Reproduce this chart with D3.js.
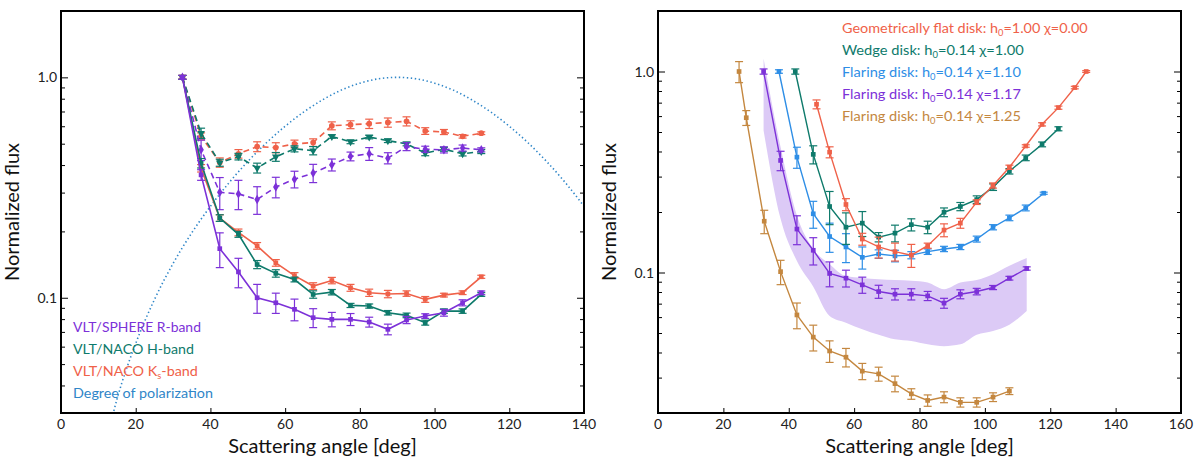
<!DOCTYPE html>
<html>
<head>
<meta charset="utf-8">
<script src="https://cdn.jsdelivr.net/npm/d3@7"></script>
<style>
  body { margin: 0; background: #fff; }
  svg { font-family: Lato, "Open Sans", sans-serif; }
</style>
</head>
<body>
<div id="chart"></div>
<script>
// ---- left panel data ----
const angL = [32.5, 37.5, 42.5, 47.5, 52.5, 57.5, 62.5, 67.5, 72.5, 77.5, 82.5, 87.5, 92.5, 97.5, 102.5, 107.5, 112.5]

const sphereI = [1.0, 0.361, 0.167, 0.131, 0.100, 0.0949, 0.0886, 0.0812, 0.0798, 0.0798, 0.0776, 0.0719, 0.0793, 0.0826, 0.0855, 0.0949, 0.1053]
const sphereIErr = [0.02, 0.02, 0.03, 0.02, 0.015, 0.01, 0.01, 0.008, 0.006, 0.005, 0.004, 0.004, 0.003, 0.002, 0.003, 0.003, 0.002]
const nacoHI = [1.0, 0.408, 0.230, 0.194, 0.1415, 0.129, 0.121, 0.1035, 0.106, 0.0923, 0.0917, 0.0855, 0.0832, 0.0771, 0.087, 0.087, 0.1035]
const nacoHIErr = [0.02, 0.02, 0.008, 0.006, 0.006, 0.005, 0.003, 0.004, 0.003, 0.002, 0.002, 0.002, 0.002, 0.002, 0.002, 0.002, 0.002]
const nacoKI = [1.0, 0.387, 0.230, 0.198, 0.172, 0.144, 0.126, 0.113, 0.1197, 0.111, 0.1054, 0.104, 0.1045, 0.0983, 0.1028, 0.1054, 0.1245]
const nacoKIErr = [0.02, 0.015, 0.008, 0.007, 0.006, 0.005, 0.004, 0.004, 0.004, 0.004, 0.004, 0.004, 0.003, 0.003, 0.002, 0.002, 0.002]

const spherePol = [1.0, 0.469, 0.301, 0.296, 0.279, 0.318, 0.345, 0.368, 0.401, 0.438, 0.450, 0.430, 0.485, 0.472, 0.469, 0.478, 0.469]
const spherePolErr = [0.02, 0.05, 0.05, 0.045, 0.04, 0.034, 0.03, 0.035, 0.025, 0.02, 0.03, 0.025, 0.02, 0.015, 0.015, 0.015, 0.01]
const nacoHPol = [1.0, 0.558, 0.41, 0.437, 0.388, 0.436, 0.474, 0.465, 0.539, 0.51, 0.536, 0.516, 0.499, 0.453, 0.472, 0.45, 0.461]
const nacoHPolErr = [0.02, 0.03, 0.015, 0.015, 0.02, 0.02, 0.015, 0.02, 0.01, 0.01, 0.01, 0.01, 0.01, 0.012, 0.01, 0.01, 0.01]
const nacoKPol = [1.0, 0.54, 0.411, 0.45, 0.485, 0.48, 0.499, 0.506, 0.603, 0.61, 0.616, 0.624, 0.632, 0.571, 0.565, 0.54, 0.558]
const nacoKPolErr = [0.02, 0.02, 0.02, 0.02, 0.025, 0.025, 0.02, 0.02, 0.025, 0.025, 0.03, 0.03, 0.03, 0.02, 0.015, 0.01, 0.008]

// degree of polarization curve
const polAng = [10, 15, 20, 25, 30, 35, 40, 45, 50, 55, 60, 65, 70, 75, 80, 85, 90, 95, 100, 105, 110, 115, 120, 125, 130, 135, 140]
const polDeg = [0.0153, 0.0347, 0.062, 0.098, 0.143, 0.197, 0.260, 0.333, 0.415, 0.505, 0.600, 0.697, 0.790, 0.875, 0.941, 0.985, 1.0, 0.985, 0.941, 0.875, 0.790, 0.697, 0.600, 0.505, 0.415, 0.333, 0.260]

// ---- right panel data ----
const angFlat = [48.5, 52.5, 57.5, 62.5, 67.5, 72.5, 77.5, 82.5, 87.5, 92.5, 97.5, 102.5, 107.5, 112.5, 117.5, 122.5, 127.5, 131]
const flat = [0.687, 0.397, 0.218, 0.1467, 0.134, 0.127, 0.122, 0.136, 0.1626, 0.176, 0.224, 0.271, 0.334, 0.426, 0.546, 0.661, 0.832, 1.0]
const flatErr = [0.035, 0.025, 0.015, 0.01, 0.016, 0.013, 0.016, 0.004, 0.012, 0.01, 0.006, 0.008, 0.008, 0.006, 0.01, 0.012, 0.012, 0.01]

const angWedge = [42, 47.5, 52.5, 57.5, 62.5, 67.5, 72.5, 77.5, 82.5, 87.5, 92.5, 97.5, 102.5, 107.5, 112.5, 117.5, 122.5]
const wedge = [1.0, 0.387, 0.213, 0.168, 0.176, 0.150, 0.157, 0.173, 0.168, 0.1995, 0.213, 0.2306, 0.266, 0.319, 0.372, 0.434, 0.519]
const wedgeErr = [0.03, 0.04, 0.04, 0.03, 0.025, 0.008, 0.015, 0.012, 0.012, 0.01, 0.01, 0.01, 0.01, 0.01, 0.012, 0.012, 0.012]

const angF110 = [37, 42.5, 47.5, 52.5, 57.5, 62.5, 67.5, 72.5, 77.5, 82.5, 87.5, 92.5, 97.5, 102.5, 107.5, 112.5, 118]
const f110 = [1.0, 0.375, 0.196, 0.151, 0.134, 0.119, 0.1236, 0.121, 0.122, 0.127, 0.131, 0.134, 0.1467, 0.168, 0.187, 0.2096, 0.248]
const f110Err = [0.02, 0.045, 0.03, 0.025, 0.022, 0.015, 0.006, 0.008, 0.005, 0.004, 0.004, 0.004, 0.005, 0.005, 0.006, 0.007, 0.003]

const angF117 = [32.3, 37.5, 42.5, 47.5, 52.5, 57.5, 62.5, 67.5, 72.5, 77.5, 82.5, 87.5, 92.5, 97.5, 102.5, 107.5, 112.8]
const f117 = [1.0, 0.361, 0.1645, 0.129, 0.0989, 0.0937, 0.0868, 0.0804, 0.078, 0.078, 0.0765, 0.0704, 0.078, 0.0804, 0.0842, 0.0937, 0.1047]
const f117Err = [0.03, 0.04, 0.027, 0.02, 0.014, 0.009, 0.008, 0.006, 0.005, 0.005, 0.004, 0.004, 0.004, 0.003, 0.002, 0.002, 0.002]
const f117Lo = [0.509, 0.185, 0.114, 0.085, 0.0608, 0.0563, 0.0522, 0.049, 0.0465, 0.0456, 0.0439, 0.043, 0.0439, 0.049, 0.0512, 0.055, 0.0644]
const f117Hi = [1.16, 0.421, 0.192, 0.131, 0.110, 0.096, 0.094, 0.0925, 0.0917, 0.091, 0.0891, 0.0826, 0.0891, 0.0917, 0.098, 0.108, 0.118]

const angF125 = [24.8, 27, 32.5, 37.5, 42.5, 47.5, 52.5, 57.5, 62.5, 67.5, 72.5, 77.5, 82.5, 87.5, 92.5, 97.5, 102.5, 107.5]
const f125 = [1.0, 0.589, 0.180, 0.101, 0.0615, 0.0477, 0.0407, 0.0379, 0.0323, 0.0313, 0.0280, 0.0249, 0.0231, 0.0240, 0.0226, 0.0226, 0.0240, 0.0257]
const f125Err = [0.12, 0.05, 0.024, 0.014, 0.009, 0.007, 0.005, 0.004, 0.003, 0.0025, 0.0025, 0.0015, 0.0015, 0.0015, 0.0012, 0.0012, 0.0012, 0.001]

const cPurple = "#7c31d8", cTeal = "#0e7a6b", cOrange = "#ef6149", cBlue = "#2e8ee6", cBrown = "#c4873f", cDop = "#2f86c8"

const W = 1200, H = 467
const svg = d3.select("#chart").append("svg").attr("width", W).attr("height", H)

function panel(x0, x1, xMax, yDomain, idx) {
    const top = 11, bottom = 413
    const x = d3.scaleLinear().domain([0, xMax]).range([x0, x1])
    const y = d3.scaleLog().domain(yDomain).range([bottom, top])
    const g = svg.append("g")
    const clip = g.append("clipPath").attr("id", "clip" + idx)
    clip.append("rect").attr("x", x0).attr("y", top).attr("width", x1 - x0).attr("height", bottom - top)

    // ticks
    const majors = [0.1, 1]
    const minors = []
    for (let d = 0.01; d < 10; d *= 10) {
        for (let k = 2; k <= 9; k++) {
            const v = k * d
            if (v > yDomain[0] && v < yDomain[1]) minors.push(v)
        }
    }
    g.append("g").attr("transform", `translate(${x0},0)`)
        .call(d3.axisRight(y).tickValues(majors).tickSize(7).tickFormat(""))
    g.append("g").attr("transform", `translate(${x0},0)`)
        .call(d3.axisRight(y).tickValues(minors).tickSize(4).tickFormat(""))
    g.append("g").attr("transform", `translate(${x1},0)`)
        .call(d3.axisLeft(y).tickValues(majors).tickSize(7).tickFormat(""))
    g.append("g").attr("transform", `translate(${x1},0)`)
        .call(d3.axisLeft(y).tickValues(minors).tickSize(4).tickFormat(""))
    g.append("g").attr("transform", `translate(0,${bottom})`)
        .call(d3.axisTop(x).ticks(xMax / 20).tickSize(5).tickFormat(""))
    g.selectAll(".domain").remove()
    g.selectAll(".tick line").attr("stroke", "#000").attr("stroke-width", 1)

    // tick labels
    g.selectAll("text.ylab").data(majors).join("text")
        .attr("class", "ylab")
        .attr("x", x0 - 4).attr("y", d => y(d) + 5)
        .attr("text-anchor", "end").attr("font-size", 14).attr("fill", "#222")
        .text(d => d3.format(".1f")(d))
    g.selectAll("text.xlab").data(x.ticks(xMax / 20)).join("text")
        .attr("class", "xlab")
        .attr("x", d => x(d)).attr("y", bottom + 16)
        .attr("text-anchor", "middle").attr("font-size", 14).attr("fill", "#222")
        .text(d => d)

    g.append("text").attr("x", (x0 + x1) / 2).attr("y", bottom + 40)
        .attr("text-anchor", "middle").attr("font-size", 20).attr("fill", "#111")
        .text("Scattering angle [deg]")
    g.append("text")
        .attr("transform", `translate(${x0 - 42},${(top + bottom) / 2}) rotate(-90)`)
        .attr("text-anchor", "middle").attr("font-size", 20).attr("fill", "#111")
        .text("Normalized flux")

    const plot = g.append("g").attr("clip-path", `url(#clip${idx})`)
    g.append("rect").attr("x", x0).attr("y", top).attr("width", x1 - x0).attr("height", bottom - top)
        .attr("fill", "none").attr("stroke", "#000").attr("stroke-width", 2)
    return { x, y, plot, g }
}

function series(p, xs, ys, errs, color, opts) {
    const pts = xs.map((a, i) => ({ a: a, v: ys[i], e: errs[i] }))
    const line = d3.line().x(d => p.x(d.a)).y(d => p.y(d.v))
    p.plot.append("path").datum(pts)
        .attr("d", line).attr("fill", "none").attr("stroke", color)
        .attr("stroke-width", opts.width || 1.6)
        .attr("stroke-dasharray", opts.dash || null)
    const eb = p.plot.append("g").attr("stroke", color).attr("stroke-width", 1.2)
    pts.forEach(d => {
        const y0 = p.y(Math.max(d.v - d.e, 1e-3)), y1 = p.y(d.v + d.e), xx = p.x(d.a)
        eb.append("line").attr("x1", xx).attr("x2", xx).attr("y1", y0).attr("y2", y1)
        eb.append("line").attr("x1", xx - 4).attr("x2", xx + 4).attr("y1", y0).attr("y2", y0)
        eb.append("line").attr("x1", xx - 4).attr("x2", xx + 4).attr("y1", y1).attr("y2", y1)
    })
    const sym = d3.symbol().type(opts.symbol || d3.symbolSquare).size(opts.size || 22)
    p.plot.append("g").selectAll("path").data(pts).join("path")
        .attr("transform", d => `translate(${p.x(d.a)},${p.y(d.v)})` + (opts.rot ? ` rotate(${opts.rot})` : ""))
        .attr("d", sym).attr("fill", color)
}

// legend text in the reference is set wide: stretch each line horizontally to its width
function wideText(parent, x, y, width, color) {
    const t = parent.append("text").attr("x", 0).attr("y", 0)
        .attr("font-size", 14).attr("fill", color)
    return { t, fit: () => {
        const w = t.node().getComputedTextLength()
        t.attr("transform", `translate(${x},${y}) scale(${width / w},1)`)
    } }
}

// ---- left panel ----
const L = panel(61, 584, 140, [0.03, 2], 0)
L.plot.append("path")
    .datum(polAng.map((a, i) => [a, polDeg[i]]))
    .attr("d", d3.line().x(d => L.x(d[0])).y(d => L.y(d[1])).curve(d3.curveMonotoneX))
    .attr("fill", "none").attr("stroke", cDop).attr("stroke-width", 1.6)
    .attr("stroke-dasharray", "1.4,2.6")

series(L, angL, nacoKPol, nacoKPolErr, cOrange, { dash: "6,4", symbol: d3.symbolCircle, size: 26 })
series(L, angL, nacoHPol, nacoHPolErr, cTeal, { dash: "6,4", symbol: d3.symbolTriangle, size: 26, rot: 180 })
series(L, angL, spherePol, spherePolErr, cPurple, { dash: "6,4", symbol: d3.symbolDiamond, size: 26 })
series(L, angL, nacoKI, nacoKIErr, cOrange, {})
series(L, angL, nacoHI, nacoHIErr, cTeal, {})
series(L, angL, sphereI, sphereIErr, cPurple, {})

const legL = [
    { t: "VLT/SPHERE R-band", c: cPurple, w: 128 },
    { t: "VLT/NACO H-band", c: cTeal, w: 121 },
    { t: "VLT/NACO K", sub: "s", rest: "-band", c: cOrange, w: 125 },
    { t: "Degree of polarization", c: cDop, w: 140 }
]
legL.forEach((d, i) => {
    const o = wideText(L.g, 73, 332 + i * 22, d.w, d.c)
    o.t.text(d.t)
    if (d.sub) {
        o.t.append("tspan").attr("font-size", 9).attr("dy", 3).text(d.sub)
        o.t.append("tspan").attr("dy", -3).text(d.rest)
    }
    o.fit()
})

// ---- right panel ----
const R = panel(658, 1181, 160, [0.02, 2], 1)
const band = angF117.map((a, i) => ({ a: a, lo: f117Lo[i], hi: f117Hi[i] }))
R.plot.append("path").datum(band)
    .attr("d", d3.area().x(d => R.x(d.a)).y0(d => R.y(d.lo)).y1(d => R.y(d.hi)).curve(d3.curveMonotoneX))
    .attr("fill", "#dccaf6").attr("stroke", "none")

series(R, angF125, f125, f125Err, cBrown, { width: 1.4 })
series(R, angF117, f117, f117Err, cPurple, { width: 1.4 })
series(R, angF110, f110, f110Err, cBlue, { width: 1.4 })
series(R, angWedge, wedge, wedgeErr, cTeal, { width: 1.4 })
series(R, angFlat, flat, flatErr, cOrange, { width: 1.4 })

const legR = [
    { a: "Geometrically flat disk: h", b: "=1.00 χ=0.00", c: cOrange, w: 246 },
    { a: "Wedge disk: h", b: "=0.14 χ=1.00", c: cTeal, w: 182 },
    { a: "Flaring disk: h", b: "=0.14 χ=1.10", c: cBlue, w: 179 },
    { a: "Flaring disk: h", b: "=0.14 χ=1.17", c: cPurple, w: 179 },
    { a: "Flaring disk: h", b: "=0.14 χ=1.25", c: cBrown, w: 179 }
]
legR.forEach((d, i) => {
    const o = wideText(R.g, 842, 33 + i * 22, d.w, d.c)
    o.t.text(d.a)
    o.t.append("tspan").attr("font-size", 9).attr("dy", 3).text("0")
    o.t.append("tspan").attr("dy", -3).text(d.b)
    o.fit()
})
</script>
</body>
</html>
